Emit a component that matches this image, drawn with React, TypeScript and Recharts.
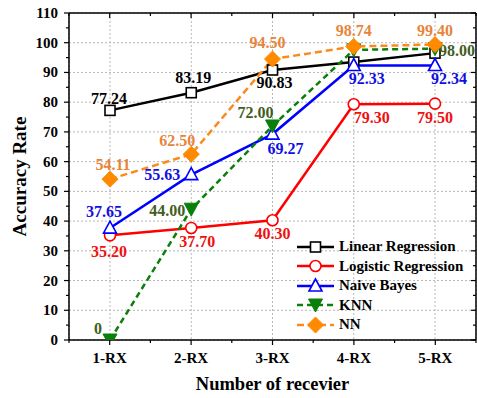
import React from 'react'
import { LineChart, Line, XAxis, YAxis, CartesianGrid, Legend, Label } from 'recharts'

const FONT = '"Liberation Serif", "Times New Roman", serif'

const categories = ['1-RX', '2-RX', '3-RX', '4-RX', '5-RX']
const linearReg = [77.24, 83.19, 90.83, 93.5, 96.5]
const logisticReg = [35.2, 37.7, 40.3, 79.3, 79.5]
const naiveBayes = [37.65, 55.63, 69.27, 92.33, 92.34]
const knn = [0, 44.0, 72.0, 97.6, 98.0]
const nn = [54.11, 62.5, 94.5, 98.74, 99.4]

const yTicks = [0, 10, 20, 30, 40, 50, 60, 70, 80, 90, 100, 110]
const yAllTicks = [0, 5, 10, 15, 20, 25, 30, 35, 40, 45, 50, 55, 60, 65, 70, 75, 80, 85, 90, 95, 100, 105, 110]
const xAllTicks = [0.5, 1, 1.5, 2, 2.5, 3, 3.5, 4, 4.5, 5, 5.5]

type Shape = 'square' | 'circle' | 'triUp' | 'triDown' | 'diamond'

// label offsets (dx, dy from the point); null = no label shown
const series = [
  {
    key: 'lr', name: 'Linear Regression', values: linearReg, color: '#000000', labelColor: '#000000',
    dash: undefined, shape: 'square' as Shape,
    labels: [[-1, -12], [2, -15], [2, 13], null, null],
  },
  {
    key: 'logr', name: 'Logistic Regression', values: logisticReg, color: '#ff0000', labelColor: '#ee1111',
    dash: undefined, shape: 'circle' as Shape,
    labels: [[-1, 16], [6, 14], [0, 13], [18, 13], [0, 14]],
  },
  {
    key: 'nb', name: 'Naive Bayes', values: naiveBayes, color: '#0000ff', labelColor: '#1010e0',
    dash: undefined, shape: 'triUp' as Shape,
    labels: [[-6, -17], [-29, 0], [13, 14], [13, 13], [14, 13]],
  },
  {
    key: 'knn', name: 'KNN', values: knn, color: '#0a800a', labelColor: '#3f5e22',
    dash: '6 4', shape: 'triDown' as Shape,
    labels: [[-12, -12], [-24, 1], [-17, -13], null, [22, 2]],
  },
  {
    key: 'nn', name: 'NN', values: nn, color: '#fa8a1e', labelColor: '#e8843a',
    dash: '7 4', shape: 'diamond' as Shape,
    labels: [[3, -15], [-14, -14], [-5, -17], [0, -16], [0, -14]],
  },
]

// pos = 1-based category index, used by the frame axes
const data = categories.map((c, i) => {
  const row: Record<string, string | number> = { name: c, pos: i + 1 }
  series.forEach((s) => { row[s.key] = s.values[i] })
  return row
})

function marker(shape: Shape, cx: number, cy: number, color: string) {
  switch (shape) {
    case 'square':
      return <rect x={cx - 5} y={cy - 5} width={10} height={10} fill="#fff" stroke={color} strokeWidth={1.6} />
    case 'circle':
      return <circle cx={cx} cy={cy} r={5.5} fill="#fff" stroke={color} strokeWidth={1.6} />
    case 'triUp':
      return <polygon points={`${cx},${cy - 7} ${cx - 6.5},${cy + 5} ${cx + 6.5},${cy + 5}`} fill="#fff" stroke={color} strokeWidth={1.6} />
    case 'triDown':
      return <polygon points={`${cx - 7},${cy - 6} ${cx + 7},${cy - 6} ${cx},${cy + 7}`} fill={color} stroke={color} strokeWidth={1} />
    default:
      return <polygon points={`${cx},${cy - 8} ${cx + 8},${cy} ${cx},${cy + 8} ${cx - 8},${cy}`} fill="#ff8a00" stroke="#ff8a00" strokeWidth={1} />
  }
}

const fmt = (v: number) => (v === 0 ? '0' : v.toFixed(2))

function makeDot(s: (typeof series)[number]) {
  return (props: any) => {
    const { cx, cy, index } = props
    const off = s.labels[index]
    const atFloor = s.values[index] === 0
    const clipId = `clip-${s.key}-${index}`
    return (
      <g key={`${s.key}-dot-${index}`}>
        {atFloor && (
          <defs>
            <clipPath id={clipId}><rect x={cx - 20} y={cy - 20} width={40} height={20} /></clipPath>
          </defs>
        )}
        <g clipPath={atFloor ? `url(#${clipId})` : undefined}>{marker(s.shape, cx, cy, s.color)}</g>
        {off && (
          <text
            x={cx + off[0]}
            y={cy + off[1]}
            textAnchor="middle"
            dominantBaseline="central"
            fill={s.labelColor}
            fontFamily={FONT}
            fontWeight="bold"
            fontSize={16}
          >
            {fmt(s.values[index])}
          </text>
        )}
      </g>
    )
  }
}

const renderLegend = () => (
  <div style={{ fontFamily: FONT, fontWeight: 'bold', fontSize: 15, color: '#000' }}>
    {series.map((s) => (
      <div key={s.key} style={{ display: 'flex', alignItems: 'center', height: 19.5 }}>
        <svg width={40} height={18} style={{ flexShrink: 0 }}>
          <line x1={1} x2={38} y1={9} y2={9} stroke={s.color} strokeWidth={2.5} strokeDasharray={s.dash} />
          {marker(s.shape, 19.5, 9, s.color)}
        </svg>
        <span style={{ marginLeft: 3, whiteSpace: 'nowrap' }}>{s.name}</span>
      </div>
    ))}
  </div>
)

const axisLine = { stroke: '#000', strokeWidth: 1.5 }
const tickText = { fill: '#000', fontSize: 15, fontWeight: 'bold' as const, fontFamily: FONT }

// major ticks get longer marks (and labels on the left/bottom)
const isMajorY = (v: number) => v % 10 === 0
const isMajorX = (v: number) => Number.isInteger(v)

const leftTick = ({ x, y, payload }: any) => {
  const major = isMajorY(payload.value)
  return (
    <g>
      <line x1={x - (major ? 5 : 3)} x2={x} y1={y} y2={y} stroke="#000" strokeWidth={1.2} />
      {major && <text x={x - 11} y={y} textAnchor="end" dominantBaseline="central" {...tickText}>{payload.value}</text>}
    </g>
  )
}
const rightTick = ({ x, y, payload }: any) => {
  const major = isMajorY(payload.value)
  return <line x1={x - (major ? 5 : 3)} x2={x} y1={y} y2={y} stroke="#000" strokeWidth={1.2} />
}
const bottomTick = ({ x, y, payload }: any) => {
  const major = isMajorX(payload.value)
  return (
    <g>
      <line x1={x} x2={x} y1={y} y2={y + (major ? 5 : 3)} stroke="#000" strokeWidth={1.2} />
      {major && <text x={x} y={y + 18} textAnchor="middle" dominantBaseline="central" {...tickText}>{categories[payload.value - 1]}</text>}
    </g>
  )
}
const topTick = ({ x, y, payload }: any) => {
  const major = isMajorX(payload.value)
  return <line x1={x} x2={x} y1={y} y2={y + (major ? 5 : 3)} stroke="#000" strokeWidth={1.2} />
}

export default function App() {
  return (
    <div style={{ position: 'absolute', left: 0, top: 0, background: '#fff' }}>
      <LineChart width={477} height={398} data={data} margin={{ top: 0, right: 0, bottom: 0, left: 0 }}>
        {/* hidden axes that carry the series and the grid */}
        <XAxis xAxisId="cat" dataKey="name" hide padding={{ left: 41, right: 41 }} interval={0} />
        <YAxis yAxisId="val" hide domain={[0, 110]} ticks={yTicks} allowDataOverflow interval={0} />

        <CartesianGrid xAxisId="cat" yAxisId="val" stroke="#b8b8b8" strokeDasharray="2 2" />

        {/* frame axes */}
        <XAxis xAxisId="bottom" dataKey="pos" type="number" orientation="bottom" domain={[0.5, 5.5]} allowDataOverflow ticks={xAllTicks} height={58}
          interval={0} tickSize={0} tickMargin={0} tickLine={false} axisLine={axisLine} tick={bottomTick}>
          <Label content={({ viewBox }: any) => (
            <text x={viewBox.x + viewBox.width / 2} y={viewBox.y + 44} textAnchor="middle" dominantBaseline="central"
              fontFamily={FONT} fontWeight="bold" fontSize={18.5} fill="#000">Number of recevier</text>
          )} />
        </XAxis>
        <XAxis xAxisId="top" dataKey="pos" type="number" orientation="top" domain={[0.5, 5.5]} allowDataOverflow ticks={xAllTicks} height={13}
          interval={0} tickSize={0} tickMargin={0} tickLine={false} axisLine={axisLine} tick={topTick} />
        <YAxis yAxisId="left" orientation="left" domain={[0, 110]} allowDataOverflow ticks={yAllTicks} width={69}
          interval={0} tickSize={0} tickMargin={0} tickLine={false} axisLine={axisLine} tick={leftTick}>
          <Label content={({ viewBox }: any) => {
            const x = viewBox.x + 19
            const y = viewBox.y + viewBox.height / 2
            return (
              <text x={x} y={y} transform={`rotate(-90 ${x} ${y})`} textAnchor="middle" dominantBaseline="central"
                fontFamily={FONT} fontWeight="bold" fontSize={19} fill="#000">Accuracy Rate</text>
            )
          }} />
        </YAxis>
        <YAxis yAxisId="right" orientation="right" domain={[0, 110]} allowDataOverflow ticks={yAllTicks} width={1}
          interval={0} tickSize={0} tickMargin={0} tickLine={false} axisLine={axisLine} tick={rightTick} />

        {series.map((s) => (
          <Line
            key={s.key}
            xAxisId="cat"
            yAxisId="val"
            type="linear"
            dataKey={s.key}
            name={s.name}
            stroke={s.color}
            strokeWidth={2.5}
            strokeDasharray={s.dash}
            dot={makeDot(s)}
            activeDot={false}
            isAnimationActive={false}
          />
        ))}

        <Legend layout="vertical" align="center" verticalAlign="middle" content={renderLegend}
          wrapperStyle={{ left: 296, top: 237, width: 181, height: 100 }} />
      </LineChart>
    </div>
  )
}
